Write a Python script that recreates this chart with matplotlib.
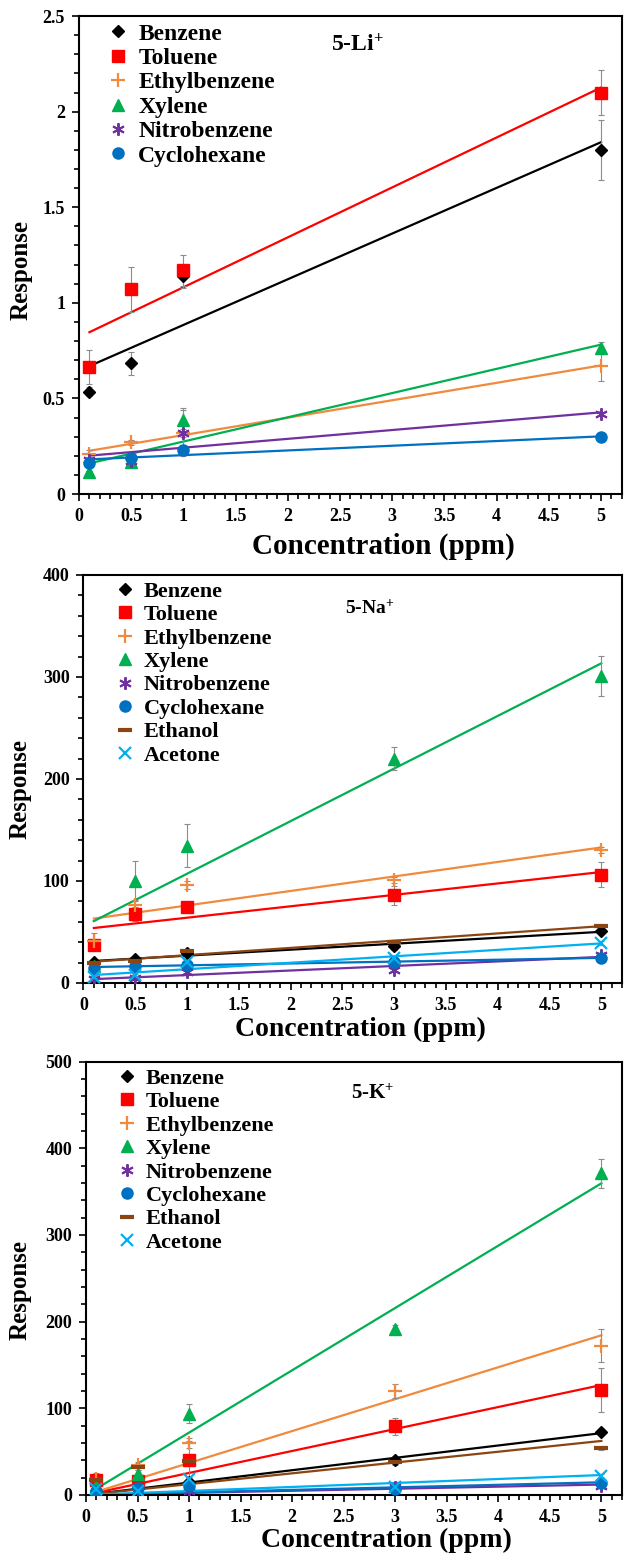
import numpy as np
import matplotlib
matplotlib.use('Agg')
import matplotlib.pyplot as plt
from matplotlib.ticker import MultipleLocator, FuncFormatter

plt.rcParams['font.family'] = ['Liberation Serif', 'DejaVu Serif']
plt.rcParams['font.weight'] = 'bold'
plt.rcParams['mathtext.fontset'] = 'custom'
plt.rcParams['mathtext.rm'] = 'Liberation Serif:bold'
plt.rcParams['mathtext.it'] = 'Liberation Serif:bold'
plt.rcParams['mathtext.bf'] = 'Liberation Serif:bold'

names = ['Benzene', 'Toluene', 'Ethylbenzene', 'Xylene', 'Nitrobenzene',
         'Cyclohexane', 'Ethanol', 'Acetone']

# 5-Li+ panel
li_x = [0.1, 0.5, 1, 5]
li_y = [[0.536, 0.683, 1.14, 1.80],
        [0.665, 1.07, 1.17, 2.10],
        [0.21, 0.27, 0.32, 0.67],
        [0.113, 0.165, 0.385, 0.765],
        [0.18, 0.175, 0.318, 0.417],
        [0.162, 0.188, 0.231, 0.297]]
li_err = [[0.025, 0.06, 0.06, 0.155],
          [0.09, 0.12, 0.08, 0.12],
          [0.02, 0.015, 0.02, 0.08],
          [0.01, 0.01, 0.065, 0.03],
          [0.015, 0.01, 0.12, 0.01],
          [0.01, 0.01, 0.015, 0.02]]

# 5-Na+ panel
na_x = [0.1, 0.5, 1, 3, 5]
na_y = [[21, 23.4, 29, 36.4, 51],
        [37, 67.3, 74.8, 85.9, 106.3],
        [41.3, 76.4, 96, 100.8, 130.7],
        [17, 100, 134.6, 220, 301],
        [3.9, 4.6, 10.4, 13, 27.3],
        [14.6, 16.9, 17.9, 21, 24.4],
        [20, 22, 31, 40, 56],
        [5.5, 7.8, 20.2, 24, 39]]
na_err = [[2, 2, 3, 4, 2],
          [4, 7, 3, 9, 12],
          [8, 5, 4, 3, 3],
          [3, 20, 21, 11, 20],
          [1, 1, 2, 2, 2],
          [1, 1, 2, 2, 2],
          [1, 1, 2, 2, 2],
          [1, 1, 3, 2, 2]]

# 5-K+ panel
k_x = [0.1, 0.5, 1, 3, 5]
k_y = [[5, 8, 14.6, 40.8, 72.3],
       [17.3, 16.5, 40.8, 79.2, 121.2],
       [18, 35, 59.6, 119.6, 172.3],
       [10, 24.2, 93.5, 191.5, 371],
       [3, 4, 5, 9, 10],
       [4, 8, 10, 7, 13.5],
       [17.3, 32, 39.6, 37.7, 53.8],
       [7, 5, 18.5, 9.6, 22.3]]
k_err = [[2, 2, 2, 4, 2],
         [8, 5, 22, 10, 25],
         [3, 3, 6, 8, 19],
         [3, 4, 11, 5, 17],
         [1, 1, 1, 1, 2],
         [1, 1, 2, 1, 2],
         [7, 3, 3, 3, 2],
         [1, 1, 2, 1, 2]]

colors = ['black', '#FF0000', '#F08A3C', '#00B050', '#7030A0', '#0070C0',
          '#8B4513', '#00B0F0']
markers = ['D', 's', '+', '^', (6, 2, 0), 'o', '_', 'x']
msizes = [6, 9, 10, 8, 9, 8, 10, 8]
mews = [1, 1, 1.6, 1, 1.4, 1, 3, 1.6]


def draw(ax, x, vals, errs, zero):
    x = np.array(x, dtype=float)
    for i in range(len(vals)):
        y = np.array(vals[i], dtype=float)
        if zero:
            k = np.sum(x * y) / np.sum(x * x)
            b = 0.0
        else:
            k, b = np.polyfit(x, y, 1)
        ends = x[[0, -1]]
        ax.plot(ends, k * ends + b, color=colors[i], lw=1.6, zorder=2)
        ax.errorbar(x, y, yerr=errs[i], fmt='none', ecolor='#8c8c8c',
                    elinewidth=0.8, capsize=2.5, capthick=0.8, zorder=3)
        ax.plot(x, y, linestyle='none', marker=markers[i], color=colors[i],
                ms=msizes[i], mew=mews[i], label=names[i], zorder=4)


def style(ax, ymax, ymaj, ymin, ylab_xy, xlab_xy, xlab_fs, leg_xy, leg_fs,
          leg_sp, tag, tag_xy, tag_fs):
    ax.set_xlim(0, 5.2)
    ax.set_ylim(0, ymax)
    ax.xaxis.set_major_locator(MultipleLocator(0.5))
    ax.xaxis.set_minor_locator(MultipleLocator(0.1))
    ax.yaxis.set_major_locator(MultipleLocator(ymaj))
    ax.yaxis.set_minor_locator(MultipleLocator(ymin))
    fmt = FuncFormatter(lambda v, p: '%g' % round(v, 3))
    ax.xaxis.set_major_formatter(fmt)
    ax.yaxis.set_major_formatter(fmt)
    for s in ax.spines.values():
        s.set_linewidth(1.5)
    ax.tick_params(which='both', direction='out', width=1.2, labelsize=13)
    ax.tick_params(which='major', length=5, pad=5)
    ax.tick_params(which='minor', length=3.5)
    ax.set_ylabel('Response', fontsize=18, fontweight='bold')
    ax.yaxis.set_label_coords(*ylab_xy)
    ax.set_xlabel('Concentration (ppm)', fontsize=xlab_fs, fontweight='bold')
    ax.xaxis.set_label_coords(*xlab_xy)
    ax.legend(loc='upper left', bbox_to_anchor=leg_xy, frameon=False,
              fontsize=leg_fs, handlelength=0.8, handletextpad=0.45,
              labelspacing=leg_sp, borderpad=0, borderaxespad=0)
    ax.text(tag_xy[0], tag_xy[1], tag, transform=ax.transAxes, ha='center',
            va='center', fontsize=tag_fs, fontweight='bold')


fig = plt.figure(figsize=(6.24, 15.59), dpi=100)
ax1 = fig.add_axes([0.1266, 0.6831, 0.870, 0.3066])
ax2 = fig.add_axes([0.1338, 0.3695, 0.863, 0.2617])
ax3 = fig.add_axes([0.1378, 0.0411, 0.859, 0.2779])

draw(ax1, li_x, li_y, li_err, False)
draw(ax2, na_x, na_y, na_err, False)
draw(ax3, k_x, k_y, k_err, True)

style(ax1, 2.5, 0.5, 0.1, (-0.085, 0.469), (0.56, -0.08), 21, (0.055, 0.985),
      17, 0.12, r'5-Li$^{+}$', (0.512, 0.939), 17)
style(ax2, 400, 100, 20, (-0.097, 0.475), (0.515, -0.082), 20, (0.06, 0.985),
      16, 0.13, r'5-Na$^{+}$', (0.532, 0.919), 14)
style(ax3, 500, 100, 20, (-0.101, 0.473), (0.56, -0.076), 20, (0.06, 0.985),
      16, 0.13, r'5-K$^{+}$', (0.534, 0.926), 15)

fig.savefig('out.png', dpi=100)
